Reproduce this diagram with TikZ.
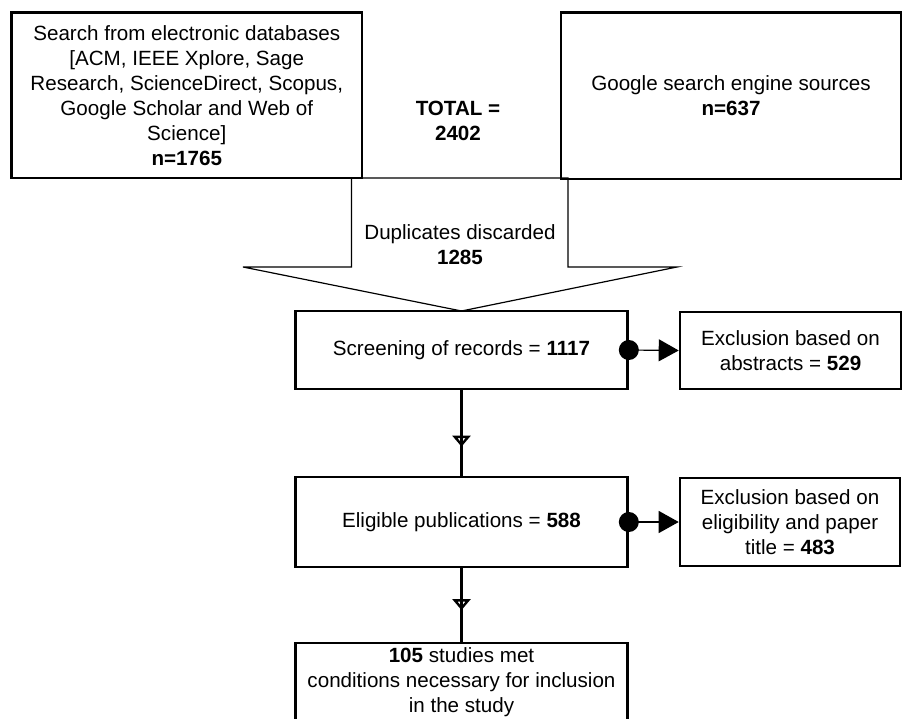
\documentclass[tikz,border=0pt]{standalone}
\usepackage{fontspec}
\setmainfont{Liberation Sans}
\usetikzlibrary{arrows.meta,decorations.markings}

\tikzset{
    box/.style={draw, line width=2.6pt, align=center, inner sep=0pt},
    midtip/.style={postaction={decorate}, decoration={markings,
        mark=at position #1 with {\arrow{Triangle[open, length=11pt, width=18pt, line width=2.4pt]}}}}
}

\begin{document}
\begin{tikzpicture}[x=1pt, y=1pt]
    \tikzstyle{every node}+=[font=\fontsize{20.6pt}{25pt}\selectfont]
    \useasboundingbox (0,0) rectangle (902,-719);
    % funnel for the duplicates
    \draw [line width=1.2pt] (351.5,-178) -- (568,-178) -- (568,-267) -- (677,-267)
        -- (461.5,-311) -- (243,-267) -- (351.5,-267) -- cycle;
    \node (dup) at (460,-244.5) [align=center] {Duplicates discarded\\\textbf{1285}};
    % sources
    \node (db) at (186.75,-95.35) [box, minimum width=350.5, minimum height=165.3]
        {Search from electronic databases\\{[}ACM, IEEE Xplore, Sage\\Research, ScienceDirect, Scopus,\\Google Scholar and Web of\\Science]\\\textbf{n=1765}};
    \node (google) at (731,-95.85) [box, minimum width=340, minimum height=166.3]
        {Google search engine sources\\\textbf{n=637}};
    \node (total) at (458,-121) [align=center] {\textbf{TOTAL =}\\\textbf{2402}};
    % screening
    \node (screen) at (461.5,-350) [box, minimum width=332, minimum height=78]
        {Screening of records = \textbf{1117}};
    \node (excl1) at (790.5,-350.5) [box, minimum width=221, minimum height=77]
        {Exclusion based on\\abstracts = \textbf{529}};
    \node (elig) at (461.5,-522) [box, minimum width=332, minimum height=90]
        {Eligible publications = \textbf{588}};
    \node (excl2) at (790,-522) [box, minimum width=220, minimum height=88]
        {Exclusion based on\\eligibility and paper\\title = \textbf{483}};
    \node (final) at (461.5,-682) [box, minimum width=332, minimum height=78]
        {\textbf{105} studies met\\conditions necessary for inclusion\\in the study};
    % connectors
    \draw [line width=2.6pt, midtip=0.66] (screen.south) -- (elig.north);
    \draw [line width=2.6pt, midtip=0.57] (elig.south) -- (final.north);
    \fill (screen.east) circle (10);
    \draw [line width=1.2pt, -{Triangle[length=20pt, width=22pt]}] (screen.east) -- (excl1.west);
    \fill (elig.east) circle (10);
    \draw [line width=1.2pt, -{Triangle[length=20pt, width=22pt]}] (elig.east) -- (excl2.west);
\end{tikzpicture}
\end{document}
